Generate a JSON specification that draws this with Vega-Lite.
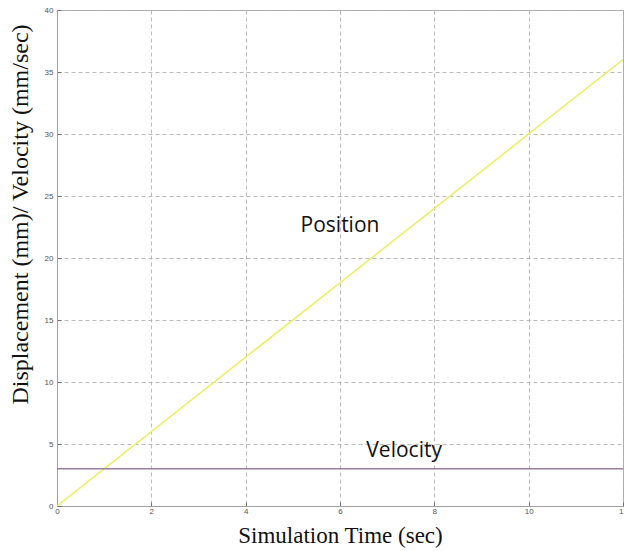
{
  "$schema": "https://vega.github.io/schema/vega-lite/v6.json",
  "width": 566,
  "height": 496,
  "autosize": {"type": "none"},
  "padding": {"left": 57, "top": 10, "right": 1, "bottom": 45},
  "background": "white",
  "config": {
    "view": {"stroke": "#b0b0b0", "strokeWidth": 1},
    "axis": {
      "grid": true,
      "gridColor": "#a8a8a8",
      "gridDash": [4, 3],
      "gridWidth": 0.8,
      "domainColor": "#a0a0a0",
      "tickColor": "#707070",
      "tickSize": -4,
      "labelFont": "Liberation Sans",
      "labelFontSize": 8,
      "labelColor": "#555555",
      "labelFlush": false,
      "titleFont": "Liberation Serif",
      "titleFontWeight": "normal",
      "titleColor": "#111111"
    }
  },
  "datasets": {
    "series": [
      {"t": 0, "value": 0, "series": "Position"},
      {"t": 12, "value": 36, "series": "Position"},
      {"t": 0, "value": 3, "series": "Velocity"},
      {"t": 12, "value": 3, "series": "Velocity"}
    ],
    "labels": [
      {"t": 6.0, "value": 22.6, "label": "Position"},
      {"t": 7.36, "value": 4.4, "label": "Velocity"}
    ]
  },
  "layer": [
    {
      "data": {"name": "series"},
      "mark": {"type": "line", "strokeWidth": 1.6, "clip": true},
      "encoding": {
        "x": {
          "field": "t",
          "type": "quantitative",
          "scale": {"domain": [0, 12], "nice": false},
          "axis": {"values": [0, 2, 4, 6, 8, 10, 12], "title": "Simulation Time (sec)", "titleFontSize": 23, "titlePadding": 9, "labelPadding": 5}
        },
        "y": {
          "field": "value",
          "type": "quantitative",
          "scale": {"domain": [0, 40], "nice": false},
          "axis": {"values": [0, 5, 10, 15, 20, 25, 30, 35, 40], "title": "Displacement  (mm)/ Velocity (mm/sec)", "titleFontSize": 24, "titleX": -25, "titleY": 204, "titleAlign": "center", "titleAngle": -90, "titleBaseline": "bottom", "labelPadding": 8}
        },
        "color": {
          "field": "series",
          "type": "nominal",
          "scale": {"domain": ["Position", "Velocity"], "range": ["#eeee6a", "#9a7ea0"]},
          "legend": null
        }
      }
    },
    {
      "data": {"name": "labels"},
      "mark": {"type": "text", "font": "Open Sans", "fontSize": 21, "color": "#111111", "align": "center", "baseline": "middle"},
      "encoding": {
        "x": {"field": "t", "type": "quantitative"},
        "y": {"field": "value", "type": "quantitative"},
        "text": {"field": "label"}
      }
    }
  ]
}
